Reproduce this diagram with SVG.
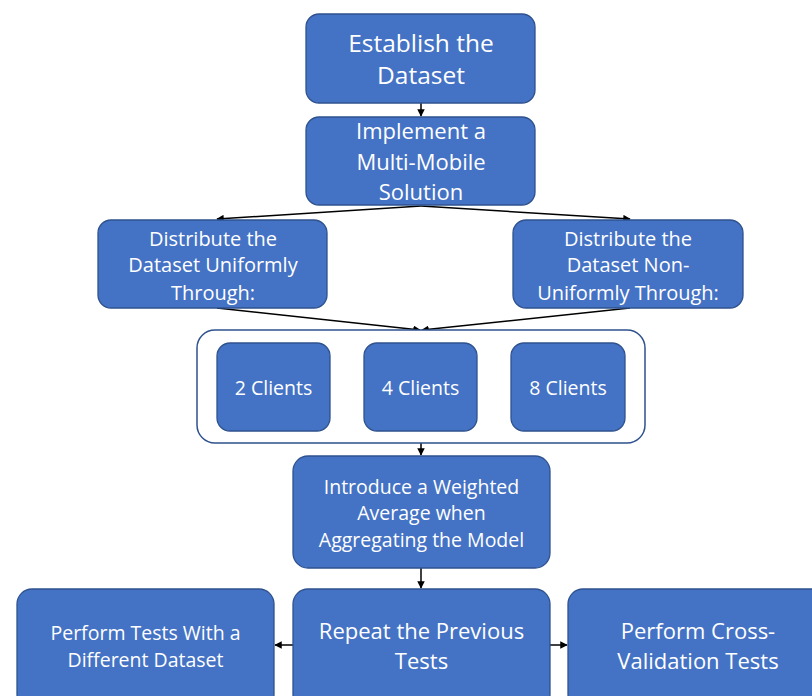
<svg xmlns="http://www.w3.org/2000/svg" width="812" height="696" viewBox="0 0 812 696">
  <style>
    .box { fill: #4472C4; stroke: #2F528F; stroke-width: 1.3; }
    .frame { fill: #FFFFFF; stroke: #2F528F; stroke-width: 1.5; }
    .lbl { fill: #FFFFFF; font-family: "Open Sans", "Liberation Sans", sans-serif; text-anchor: middle; }
    .xl { font-size: 24.5px; }
    .big { font-size: 22px; }
    .mid { font-size: 20px; }
    .sm { font-size: 19.5px; }
    .conn line { stroke: #000000; stroke-width: 1.5; marker-end: url(#head); }
  </style>
  <defs>
    <marker id="head" viewBox="0 0 10 10" refX="9" refY="5" markerWidth="5" markerHeight="5" orient="auto" markerUnits="strokeWidth">
      <path d="M0,0 L10,5 L0,10 z" fill="#000000"/>
    </marker>
  </defs>
  <rect width="812" height="696" fill="#FFFFFF"/>

  <g id="connectors" class="conn">
    <line x1="421" y1="103" x2="421" y2="116"/>
    <line x1="421" y1="206" x2="217" y2="219"/>
    <line x1="421" y1="206" x2="630" y2="219"/>
    <line x1="217" y1="308" x2="420" y2="330"/>
    <line x1="630" y1="308" x2="422" y2="330"/>
    <line x1="421" y1="443" x2="421" y2="455"/>
    <line x1="421" y1="568" x2="421" y2="588"/>
    <line x1="293" y1="645" x2="275" y2="645"/>
    <line x1="550" y1="645" x2="567" y2="645"/>
  </g>

  <g id="establish">
    <rect class="box" x="306" y="14" width="229" height="89" rx="13"/>
    <text class="lbl xl" x="421" y="52">Establish the</text>
    <text class="lbl xl" x="421" y="84">Dataset</text>
  </g>

  <g id="implement">
    <rect class="box" x="306" y="117" width="229" height="88" rx="13"/>
    <text class="lbl big" x="421" y="139">Implement a</text>
    <text class="lbl big" x="421" y="170">Multi-Mobile</text>
    <text class="lbl big" x="421" y="200">Solution</text>
  </g>

  <g id="uniform">
    <rect class="box" x="98" y="220" width="229" height="88" rx="13"/>
    <text class="lbl mid" x="213" y="246">Distribute the</text>
    <text class="lbl mid" x="213" y="272">Dataset Uniformly</text>
    <text class="lbl mid" x="213" y="300">Through:</text>
  </g>

  <g id="nonuniform">
    <rect class="box" x="513" y="220" width="230" height="88" rx="13"/>
    <text class="lbl mid" x="628" y="246">Distribute the</text>
    <text class="lbl mid" x="628" y="272">Dataset Non-</text>
    <text class="lbl mid" x="628" y="300">Uniformly Through:</text>
  </g>

  <g id="clients">
    <rect class="frame" x="197" y="330" width="448" height="113" rx="18"/>
    <g id="c2">
      <rect class="box" x="217" y="343" width="113" height="88" rx="13"/>
      <text class="lbl sm" x="273.5" y="395">2 Clients</text>
    </g>
    <g id="c4">
      <rect class="box" x="364" y="343" width="113" height="88" rx="13"/>
      <text class="lbl sm" x="420.5" y="395">4 Clients</text>
    </g>
    <g id="c8">
      <rect class="box" x="511" y="343" width="114" height="88" rx="13"/>
      <text class="lbl sm" x="568" y="395">8 Clients</text>
    </g>
  </g>

  <g id="weighted">
    <rect class="box" x="293" y="456" width="257" height="112" rx="15"/>
    <text class="lbl sm" x="421.5" y="494">Introduce a Weighted</text>
    <text class="lbl sm" x="421.5" y="520">Average when</text>
    <text class="lbl sm" x="421.5" y="547">Aggregating the Model</text>
  </g>

  <g id="repeat">
    <rect class="box" x="293" y="589" width="257" height="120" rx="15"/>
    <text class="lbl big" x="421.5" y="639">Repeat the Previous</text>
    <text class="lbl big" x="421.5" y="669">Tests</text>
  </g>

  <g id="different">
    <rect class="box" x="17" y="589" width="257" height="120" rx="15"/>
    <text class="lbl sm" x="145.5" y="640">Perform Tests With a</text>
    <text class="lbl sm" x="145.5" y="667">Different Dataset</text>
  </g>

  <g id="crossval">
    <rect class="box" x="568" y="589" width="260" height="120" rx="15"/>
    <text class="lbl big" x="698" y="639">Perform Cross-</text>
    <text class="lbl big" x="698" y="669">Validation Tests</text>
  </g>
</svg>
